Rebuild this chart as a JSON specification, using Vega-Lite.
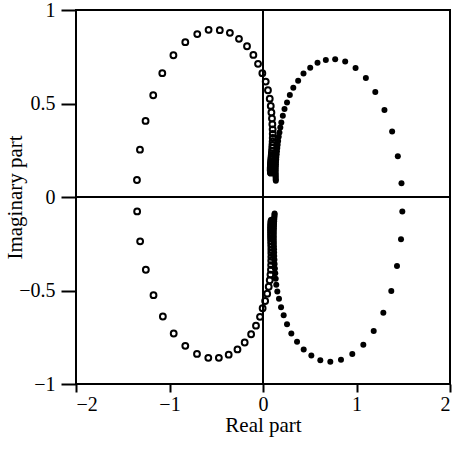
{
  "$schema": "https://vega.github.io/schema/vega-lite/v6.json",
  "width": 374,
  "height": 374,
  "padding": {"left": 76, "top": 10, "right": 4, "bottom": 65},
  "autosize": {"type": "none"},
  "background": "white",
  "datasets": {
    "pts": [
      {"s": "open", "re": -1.348, "im": 0.091},
      {"s": "open", "re": -1.316, "im": 0.253},
      {"s": "open", "re": -1.256, "im": 0.407},
      {"s": "open", "re": -1.174, "im": 0.544},
      {"s": "open", "re": -1.077, "im": 0.662},
      {"s": "open", "re": -0.958, "im": 0.758},
      {"s": "open", "re": -0.831, "im": 0.828},
      {"s": "open", "re": -0.703, "im": 0.871},
      {"s": "open", "re": -0.582, "im": 0.894},
      {"s": "open", "re": -0.462, "im": 0.892},
      {"s": "open", "re": -0.354, "im": 0.878},
      {"s": "open", "re": -0.257, "im": 0.846},
      {"s": "open", "re": -0.171, "im": 0.806},
      {"s": "open", "re": -0.103, "im": 0.760},
      {"s": "open", "re": -0.053, "im": 0.712},
      {"s": "open", "re": -0.007, "im": 0.662},
      {"s": "open", "re": 0.029, "im": 0.617},
      {"s": "open", "re": 0.053, "im": 0.571},
      {"s": "open", "re": 0.072, "im": 0.526},
      {"s": "open", "re": 0.083, "im": 0.487},
      {"s": "open", "re": 0.090, "im": 0.452},
      {"s": "open", "re": 0.096, "im": 0.420},
      {"s": "open", "re": 0.100, "im": 0.389},
      {"s": "open", "re": 0.103, "im": 0.362},
      {"s": "open", "re": 0.104, "im": 0.338},
      {"s": "open", "re": 0.104, "im": 0.316},
      {"s": "open", "re": 0.103, "im": 0.296},
      {"s": "open", "re": 0.101, "im": 0.278},
      {"s": "open", "re": 0.099, "im": 0.262},
      {"s": "open", "re": 0.097, "im": 0.247},
      {"s": "open", "re": 0.095, "im": 0.234},
      {"s": "open", "re": 0.093, "im": 0.222},
      {"s": "open", "re": 0.091, "im": 0.211},
      {"s": "open", "re": 0.089, "im": 0.201},
      {"s": "open", "re": 0.088, "im": 0.192},
      {"s": "open", "re": 0.087, "im": 0.184},
      {"s": "open", "re": 0.086, "im": 0.177},
      {"s": "open", "re": 0.085, "im": 0.170},
      {"s": "open", "re": 0.084, "im": 0.164},
      {"s": "open", "re": 0.083, "im": 0.158},
      {"s": "open", "re": 0.083, "im": 0.153},
      {"s": "open", "re": 0.083, "im": 0.148},
      {"s": "open", "re": 0.083, "im": 0.144},
      {"s": "open", "re": 0.083, "im": 0.140},
      {"s": "open", "re": 0.084, "im": 0.136},
      {"s": "open", "re": 0.085, "im": 0.133},
      {"s": "open", "re": 0.086, "im": 0.130},
      {"s": "open", "re": -1.346, "im": -0.077},
      {"s": "open", "re": -1.314, "im": -0.237},
      {"s": "open", "re": -1.253, "im": -0.389},
      {"s": "open", "re": -1.171, "im": -0.525},
      {"s": "open", "re": -1.071, "im": -0.639},
      {"s": "open", "re": -0.955, "im": -0.730},
      {"s": "open", "re": -0.831, "im": -0.796},
      {"s": "open", "re": -0.706, "im": -0.839},
      {"s": "open", "re": -0.585, "im": -0.860},
      {"s": "open", "re": -0.472, "im": -0.860},
      {"s": "open", "re": -0.367, "im": -0.843},
      {"s": "open", "re": -0.273, "im": -0.815},
      {"s": "open", "re": -0.196, "im": -0.778},
      {"s": "open", "re": -0.127, "im": -0.734},
      {"s": "open", "re": -0.075, "im": -0.688},
      {"s": "open", "re": -0.032, "im": -0.641},
      {"s": "open", "re": -0.004, "im": -0.595},
      {"s": "open", "re": 0.023, "im": -0.556},
      {"s": "open", "re": 0.045, "im": -0.517},
      {"s": "open", "re": 0.061, "im": -0.480},
      {"s": "open", "re": 0.072, "im": -0.445},
      {"s": "open", "re": 0.080, "im": -0.415},
      {"s": "open", "re": 0.085, "im": -0.389},
      {"s": "open", "re": 0.087, "im": -0.364},
      {"s": "open", "re": 0.088, "im": -0.341},
      {"s": "open", "re": 0.089, "im": -0.320},
      {"s": "open", "re": 0.089, "im": -0.300},
      {"s": "open", "re": 0.089, "im": -0.282},
      {"s": "open", "re": 0.089, "im": -0.265},
      {"s": "open", "re": 0.088, "im": -0.250},
      {"s": "open", "re": 0.088, "im": -0.236},
      {"s": "open", "re": 0.087, "im": -0.223},
      {"s": "open", "re": 0.087, "im": -0.211},
      {"s": "open", "re": 0.087, "im": -0.200},
      {"s": "open", "re": 0.087, "im": -0.190},
      {"s": "open", "re": 0.087, "im": -0.180},
      {"s": "open", "re": 0.087, "im": -0.171},
      {"s": "open", "re": 0.088, "im": -0.163},
      {"s": "open", "re": 0.088, "im": -0.155},
      {"s": "open", "re": 0.089, "im": -0.147},
      {"s": "open", "re": 0.090, "im": -0.140},
      {"s": "open", "re": 0.091, "im": -0.133},
      {"s": "open", "re": 0.092, "im": -0.127},
      {"s": "filled", "re": 1.481, "im": 0.074},
      {"s": "filled", "re": 1.442, "im": 0.218},
      {"s": "filled", "re": 1.381, "im": 0.350},
      {"s": "filled", "re": 1.299, "im": 0.465},
      {"s": "filled", "re": 1.201, "im": 0.561},
      {"s": "filled", "re": 1.100, "im": 0.637},
      {"s": "filled", "re": 0.990, "im": 0.690},
      {"s": "filled", "re": 0.879, "im": 0.724},
      {"s": "filled", "re": 0.772, "im": 0.737},
      {"s": "filled", "re": 0.672, "im": 0.733},
      {"s": "filled", "re": 0.583, "im": 0.718},
      {"s": "filled", "re": 0.505, "im": 0.691},
      {"s": "filled", "re": 0.433, "im": 0.660},
      {"s": "filled", "re": 0.376, "im": 0.622},
      {"s": "filled", "re": 0.324, "im": 0.584},
      {"s": "filled", "re": 0.287, "im": 0.545},
      {"s": "filled", "re": 0.257, "im": 0.506},
      {"s": "filled", "re": 0.230, "im": 0.470},
      {"s": "filled", "re": 0.212, "im": 0.434},
      {"s": "filled", "re": 0.196, "im": 0.398},
      {"s": "filled", "re": 0.185, "im": 0.371},
      {"s": "filled", "re": 0.176, "im": 0.345},
      {"s": "filled", "re": 0.168, "im": 0.322},
      {"s": "filled", "re": 0.162, "im": 0.300},
      {"s": "filled", "re": 0.157, "im": 0.280},
      {"s": "filled", "re": 0.153, "im": 0.262},
      {"s": "filled", "re": 0.149, "im": 0.245},
      {"s": "filled", "re": 0.146, "im": 0.229},
      {"s": "filled", "re": 0.143, "im": 0.214},
      {"s": "filled", "re": 0.141, "im": 0.200},
      {"s": "filled", "re": 0.139, "im": 0.187},
      {"s": "filled", "re": 0.138, "im": 0.175},
      {"s": "filled", "re": 0.137, "im": 0.164},
      {"s": "filled", "re": 0.136, "im": 0.153},
      {"s": "filled", "re": 0.135, "im": 0.143},
      {"s": "filled", "re": 0.135, "im": 0.134},
      {"s": "filled", "re": 0.135, "im": 0.125},
      {"s": "filled", "re": 0.135, "im": 0.117},
      {"s": "filled", "re": 0.135, "im": 0.109},
      {"s": "filled", "re": 0.136, "im": 0.101},
      {"s": "filled", "re": 0.136, "im": 0.094},
      {"s": "filled", "re": 0.137, "im": 0.087},
      {"s": "filled", "re": 1.490, "im": -0.077},
      {"s": "filled", "re": 1.476, "im": -0.226},
      {"s": "filled", "re": 1.433, "im": -0.369},
      {"s": "filled", "re": 1.372, "im": -0.503},
      {"s": "filled", "re": 1.287, "im": -0.619},
      {"s": "filled", "re": 1.184, "im": -0.717},
      {"s": "filled", "re": 1.073, "im": -0.790},
      {"s": "filled", "re": 0.955, "im": -0.840},
      {"s": "filled", "re": 0.834, "im": -0.870},
      {"s": "filled", "re": 0.720, "im": -0.881},
      {"s": "filled", "re": 0.613, "im": -0.873},
      {"s": "filled", "re": 0.517, "im": -0.847},
      {"s": "filled", "re": 0.435, "im": -0.815},
      {"s": "filled", "re": 0.364, "im": -0.774},
      {"s": "filled", "re": 0.303, "im": -0.730},
      {"s": "filled", "re": 0.257, "im": -0.681},
      {"s": "filled", "re": 0.221, "im": -0.633},
      {"s": "filled", "re": 0.193, "im": -0.589},
      {"s": "filled", "re": 0.171, "im": -0.544},
      {"s": "filled", "re": 0.153, "im": -0.505},
      {"s": "filled", "re": 0.142, "im": -0.469},
      {"s": "filled", "re": 0.136, "im": -0.437},
      {"s": "filled", "re": 0.131, "im": -0.408},
      {"s": "filled", "re": 0.127, "im": -0.382},
      {"s": "filled", "re": 0.124, "im": -0.358},
      {"s": "filled", "re": 0.122, "im": -0.336},
      {"s": "filled", "re": 0.120, "im": -0.316},
      {"s": "filled", "re": 0.119, "im": -0.297},
      {"s": "filled", "re": 0.118, "im": -0.280},
      {"s": "filled", "re": 0.117, "im": -0.264},
      {"s": "filled", "re": 0.116, "im": -0.249},
      {"s": "filled", "re": 0.116, "im": -0.235},
      {"s": "filled", "re": 0.115, "im": -0.222},
      {"s": "filled", "re": 0.115, "im": -0.210},
      {"s": "filled", "re": 0.115, "im": -0.198},
      {"s": "filled", "re": 0.115, "im": -0.187},
      {"s": "filled", "re": 0.115, "im": -0.177},
      {"s": "filled", "re": 0.116, "im": -0.167},
      {"s": "filled", "re": 0.116, "im": -0.157},
      {"s": "filled", "re": 0.117, "im": -0.148},
      {"s": "filled", "re": 0.118, "im": -0.139},
      {"s": "filled", "re": 0.119, "im": -0.130},
      {"s": "filled", "re": 0.120, "im": -0.121},
      {"s": "filled", "re": 0.121, "im": -0.112},
      {"s": "filled", "re": 0.122, "im": -0.103},
      {"s": "filled", "re": 0.123, "im": -0.095},
      {"s": "filled", "re": 0.124, "im": -0.088}
    ]
  },
  "data": {"name": "pts"},
  "encoding": {
    "x": {
      "field": "re", "type": "quantitative",
      "scale": {"domain": [-2, 2], "nice": false, "zero": false},
      "axis": {"title": "Real part", "values": [-2, -1, 0, 1, 2], "format": "~g", "tickSize": 8, "labelPadding": 2, "titlePadding": 0}
    },
    "y": {
      "field": "im", "type": "quantitative",
      "scale": {"domain": [-1, 1], "nice": false, "zero": false},
      "axis": {"title": "Imaginary part", "values": [-1, -0.5, 0, 0.5, 1], "format": "~g", "tickSize": 15, "labelPadding": 6, "titleX": -51, "titleY": 187, "titleAlign": "center", "titleAngle": -90, "titleBaseline": "bottom"}
    }
  },
  "layer": [
    {"mark": {"type": "rule", "color": "black", "strokeWidth": 2}, "encoding": {"x": {"datum": 0}, "y": null}},
    {"mark": {"type": "rule", "color": "black", "strokeWidth": 2}, "encoding": {"y": {"datum": 0}, "x": null}},
    {
      "transform": [{"filter": "datum.s === 'open'"}],
      "mark": {"type": "point", "shape": "circle", "filled": false, "stroke": "black", "strokeWidth": 2, "size": 34, "opacity": 1}
    },
    {
      "transform": [{"filter": "datum.s === 'filled'"}],
      "mark": {"type": "circle", "color": "black", "size": 36, "opacity": 1}
    }
  ],
  "config": {
    "view": {"stroke": "black", "strokeWidth": 2},
    "axis": {
      "grid": false, "domain": false,
      "tickColor": "black", "tickWidth": 2,
      "labelColor": "black", "titleColor": "black",
      "labelFont": "Liberation Serif", "titleFont": "Liberation Serif",
      "labelFontSize": 20, "titleFontSize": 21, "titleFontWeight": "normal"
    }
  }
}
